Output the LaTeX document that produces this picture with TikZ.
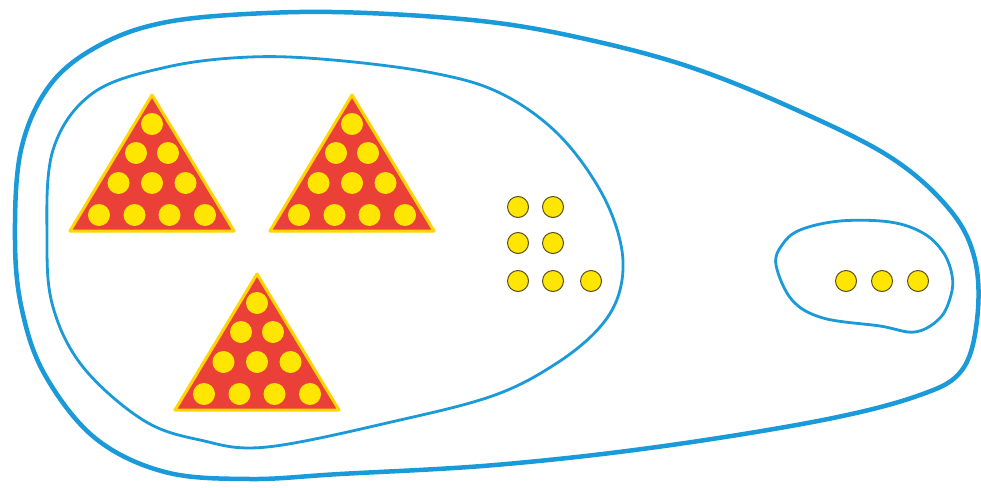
\documentclass[tikz,border=0pt]{standalone}
\definecolor{blobblue}{RGB}{26,154,216}
\definecolor{trired}{RGB}{234,64,56}
\definecolor{triyel}{RGB}{255,214,0}
\definecolor{dotyel}{RGB}{255,230,0}
\definecolor{dotedge}{RGB}{90,78,28}
\tikzset{
  outerblob/.style={draw=blobblue, line width=4.5pt},
  innerblob/.style={draw=blobblue, line width=2.8pt},
  tri/.style={fill=trired, draw=triyel, line width=3pt, line join=round},
  tridot/.style={fill=dotyel},
  sidedot/.style={fill=dotyel, draw=dotedge, line width=1pt}
}
\newcommand{\mytri}[2]{%
  \begin{scope}[shift={(#1,#2)}]
    \filldraw[tri] (0,2) -- (-82,138) -- (82,138) -- cycle;
    \foreach \dx/\dy in {0/31,-16/60,16/60,-33.5/90,0/90,33.5/90,-53/122,-17.5/122,17.5/122,53/122}
      \fill[tridot] (\dx,\dy) circle[radius=11pt];
  \end{scope}}
\begin{document}
\begin{tikzpicture}[x=1pt,y=-1pt]
\useasboundingbox[fill=white] (0,0) rectangle (981,487);
% outer blob
\draw[outerblob] plot[smooth cycle, tension=0.6] coordinates {
 (15,240) (21,150) (50,85) (100,45) (167,22) (267,13) (367,13) (490,22)
 (590,40) (690,67) (790,107) (890,157) (950,210) (975,260) (977,320)
 (962,370) (920,395) (823,420) (657,447) (495,465) (340,474) (250,479)
 (165,472) (95,438) (45,375) (22,310)};
% inner blob
\draw[innerblob] plot[smooth cycle, tension=0.6] coordinates {
 (47,240) (53,150) (93,93) (167,67) (250,57) (333,60) (433,73) (500,93)
 (557,133) (600,190) (621,245) (620,290) (600,327) (557,363) (495,395)
 (400,420) (267,447) (200,440) (143,420) (83,367) (53,307)};
% small blob
\draw[innerblob] plot[smooth cycle, tension=0.6] coordinates {
 (776,265) (782,245) (800,230) (840,221) (890,222) (923,233) (943,252)
 (952,275) (951,295) (940,318) (915,332) (880,326) (823,318) (792,300)};
% triangles
\mytri{152}{93}
\mytri{352}{93}
\mytri{257}{272}
% middle dots
\foreach \p in {(518,207),(553,207),(518,243),(553,243),(518,281),(553,281),(591,281)}
  \filldraw[sidedot] \p circle[radius=10.5pt];
% right dots
\foreach \p in {(846,281),(882,281),(918,281)}
  \filldraw[sidedot] \p circle[radius=10.5pt];
\end{tikzpicture}
\end{document}
